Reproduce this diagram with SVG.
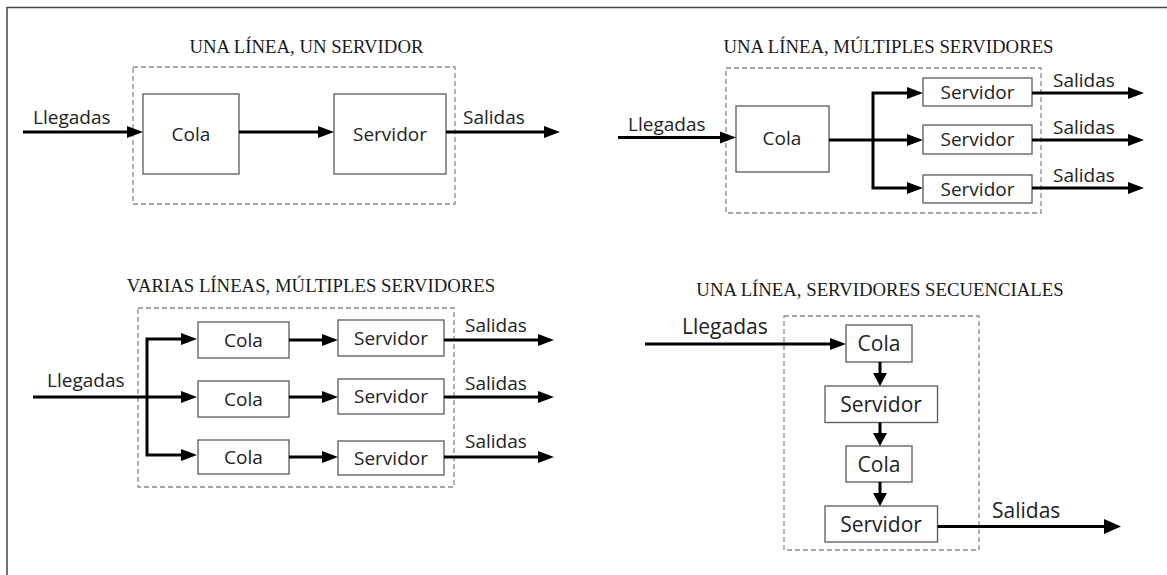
<svg xmlns="http://www.w3.org/2000/svg" width="1167" height="575" viewBox="0 0 1167 575">
<style>
.title{font-family:"Liberation Serif","Times New Roman",serif;font-size:18.75px;fill:#1a1a1a;text-anchor:middle}
.lbl{font-family:"Open Sans","Noto Sans",sans-serif;font-size:19px;fill:#222}
.big{font-size:21px}
.mid{text-anchor:middle}
.box{fill:#fff;stroke:#5a5a5a;stroke-width:1.3}
.dash{fill:none;stroke:#8a8a8a;stroke-width:1.3;stroke-dasharray:5 3}
.arr{fill:none;stroke:#000;stroke-width:3;stroke-linejoin:miter}
.frame{fill:none;stroke:#444;stroke-width:1.5}
</style>
<defs>
<marker id="ah" markerUnits="userSpaceOnUse" markerWidth="16" markerHeight="12" refX="2" refY="6" orient="auto" overflow="visible">
<path d="M0,0 L16,6 L0,12 z" fill="#000"/>
</marker>
<marker id="ahL" markerUnits="userSpaceOnUse" markerWidth="17" markerHeight="15" refX="2" refY="7.5" orient="auto" overflow="visible">
<path d="M0,0 L17,7.5 L0,15 z" fill="#000"/>
</marker>
<marker id="ahD" markerUnits="userSpaceOnUse" markerWidth="13" markerHeight="14" refX="2" refY="7" orient="auto" overflow="visible">
<path d="M0,0 L13,7 L0,14 z" fill="#000"/>
</marker>
</defs>
<rect width="1167" height="575" fill="#fff"/>
<path class="frame" d="M7,575 V7.5 H1167"/>

<!-- Panel 1 -->
<g id="p1">
<text class="title" x="306.5" y="52.5">UNA LÍNEA, UN SERVIDOR</text>
<rect class="dash" x="133" y="67" width="322" height="137"/>
<text class="lbl" x="33" y="124">Llegadas</text>
<text class="lbl" x="463" y="124">Salidas</text>
</g>
<g id="p1-cola"><rect class="box" x="143" y="94" width="96" height="80"/><text class="lbl mid" x="191" y="141">Cola</text></g>
<g id="p1-servidor"><rect class="box" x="334" y="94" width="112" height="80"/><text class="lbl mid" x="390" y="141">Servidor</text></g>

<!-- Panel 2 -->
<g id="p2">
<text class="title" x="888.5" y="53">UNA LÍNEA, MÚLTIPLES SERVIDORES</text>
<rect class="dash" x="726" y="68" width="315" height="145"/>
<text class="lbl" x="628" y="131">Llegadas</text>
<text class="lbl" x="1053" y="87">Salidas</text>
<text class="lbl" x="1053" y="134">Salidas</text>
<text class="lbl" x="1053" y="182">Salidas</text>
</g>
<g id="p2-cola"><rect class="box" x="736" y="106" width="93" height="66"/><text class="lbl mid" x="782" y="145">Cola</text></g>
<g id="p2-serv1"><rect class="box" x="923" y="78" width="109" height="28"/><text class="lbl mid" x="977.5" y="98.5">Servidor</text></g>
<g id="p2-serv2"><rect class="box" x="923" y="125" width="109" height="29"/><text class="lbl mid" x="977.5" y="146">Servidor</text></g>
<g id="p2-serv3"><rect class="box" x="923" y="175" width="109" height="28"/><text class="lbl mid" x="977.5" y="195.5">Servidor</text></g>

<!-- Panel 3 -->
<g id="p3">
<text class="title" x="311" y="292">VARIAS LÍNEAS, MÚLTIPLES SERVIDORES</text>
<rect class="dash" x="138" y="308" width="316" height="179"/>
<text class="lbl" x="47" y="387">Llegadas</text>
<text class="lbl" x="465" y="332">Salidas</text>
<text class="lbl" x="465" y="390">Salidas</text>
<text class="lbl" x="465" y="448">Salidas</text>
</g>
<g id="p3-cola1"><rect class="box" x="198" y="322" width="91" height="36"/><text class="lbl mid" x="243.5" y="347">Cola</text></g>
<g id="p3-cola2"><rect class="box" x="198" y="381" width="91" height="36"/><text class="lbl mid" x="243.5" y="406">Cola</text></g>
<g id="p3-cola3"><rect class="box" x="198" y="440" width="91" height="34"/><text class="lbl mid" x="243.5" y="464">Cola</text></g>
<g id="p3-serv1"><rect class="box" x="338" y="320" width="106" height="36"/><text class="lbl mid" x="391" y="344.5">Servidor</text></g>
<g id="p3-serv2"><rect class="box" x="338" y="379" width="106" height="35"/><text class="lbl mid" x="391" y="403">Servidor</text></g>
<g id="p3-serv3"><rect class="box" x="338" y="441" width="106" height="34"/><text class="lbl mid" x="391" y="464.5">Servidor</text></g>

<!-- Panel 4 -->
<g id="p4">
<text class="title" x="880" y="296">UNA LÍNEA, SERVIDORES SECUENCIALES</text>
<rect class="dash" x="784" y="316" width="195" height="234"/>
<text class="lbl big" x="682" y="333.5">Llegadas</text>
<text class="lbl big" x="992" y="518">Salidas</text>
</g>
<g id="p4-cola1"><rect class="box" x="846" y="325" width="66" height="37"/><text class="lbl big mid" x="879" y="351">Cola</text></g>
<g id="p4-serv1"><rect class="box" x="825" y="386" width="112.5" height="36.5"/><text class="lbl big mid" x="881" y="411.5">Servidor</text></g>
<g id="p4-cola2"><rect class="box" x="846" y="446" width="66" height="36"/><text class="lbl big mid" x="879" y="471.5">Cola</text></g>
<g id="p4-serv2"><rect class="box" x="825" y="506" width="112.5" height="36"/><text class="lbl big mid" x="881" y="531.5">Servidor</text></g>

<g id="connectors">
<!-- P1 -->
<path class="arr" d="M23,132 H129" marker-end="url(#ah)"/>
<path class="arr" d="M239,132 H320" marker-end="url(#ah)"/>
<path class="arr" d="M446,132 H546" marker-end="url(#ah)"/>
<!-- P2 -->
<path class="arr" d="M618,137.5 H722" marker-end="url(#ah)"/>
<path class="arr" d="M829,140 H909" marker-end="url(#ah)"/>
<path class="arr" d="M873,140 V93 H909" marker-end="url(#ah)"/>
<path class="arr" d="M873,140 V188 H909" marker-end="url(#ah)"/>
<path class="arr" d="M1032,93 H1130" marker-end="url(#ah)"/>
<path class="arr" d="M1032,140 H1130" marker-end="url(#ah)"/>
<path class="arr" d="M1032,188 H1130" marker-end="url(#ah)"/>
<!-- P3 -->
<path class="arr" d="M33,397 H183" marker-end="url(#ah)"/>
<path class="arr" d="M147,397 V339 H183" marker-end="url(#ah)"/>
<path class="arr" d="M147,397 V455 H183" marker-end="url(#ah)"/>
<path class="arr" d="M289,340 H324" marker-end="url(#ah)"/>
<path class="arr" d="M289,397 H324" marker-end="url(#ah)"/>
<path class="arr" d="M289,457 H324" marker-end="url(#ah)"/>
<path class="arr" d="M444,340 H540" marker-end="url(#ah)"/>
<path class="arr" d="M444,397 H540" marker-end="url(#ah)"/>
<path class="arr" d="M444,457 H540" marker-end="url(#ah)"/>
<!-- P4 -->
<path class="arr" d="M645,344 H832" marker-end="url(#ah)"/>
<path class="arr" d="M880,362 V375" marker-end="url(#ahD)"/>
<path class="arr" d="M880,422.5 V435" marker-end="url(#ahD)"/>
<path class="arr" d="M880,482 V495" marker-end="url(#ahD)"/>
<path class="arr" d="M937.5,526.5 H1106" marker-end="url(#ahL)"/>
</g>
</svg>
